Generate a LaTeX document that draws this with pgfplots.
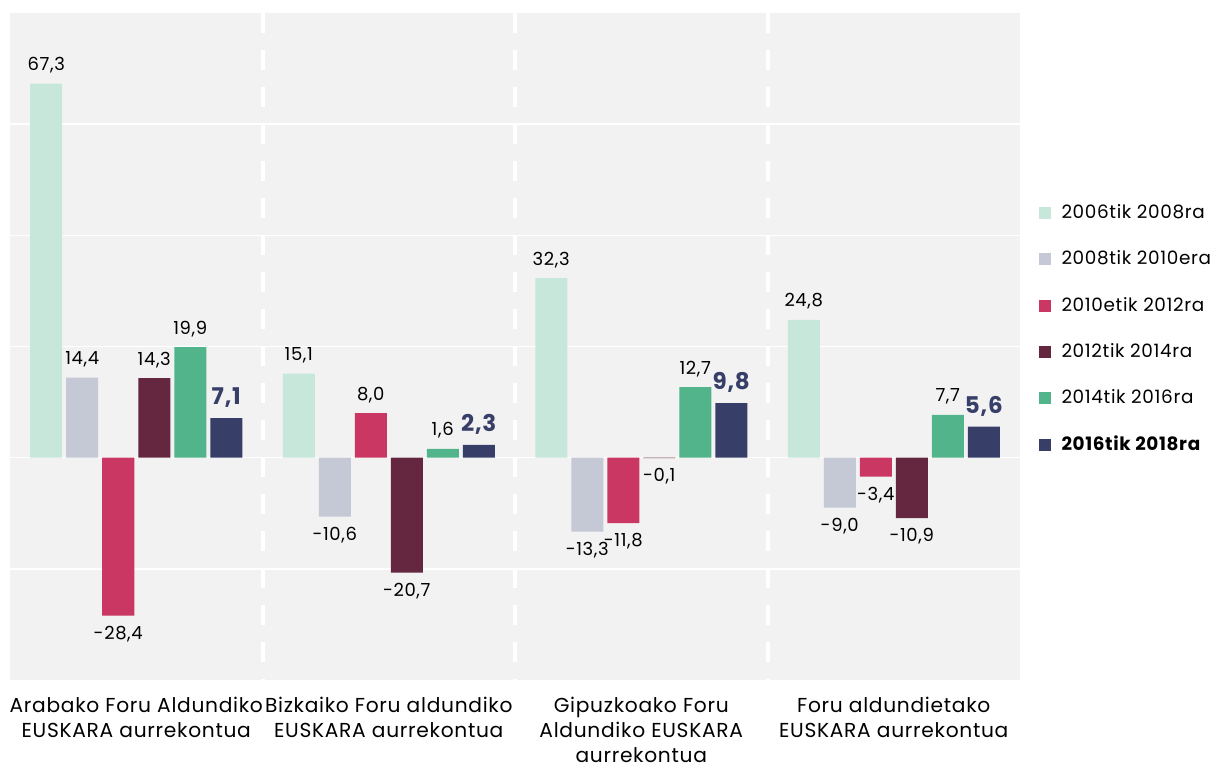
\documentclass[border=0pt]{standalone}
\usepackage{fontspec}
\setmainfont{Poppins}[LetterSpace=3.5]
\usepackage{pgfplots}
\pgfplotsset{compat=1.18}
\definecolor{c1}{HTML}{C6E7DA}
\definecolor{c2}{HTML}{C5C9D5}
\definecolor{c3}{HTML}{C93762}
\definecolor{c4}{HTML}{652740}
\definecolor{c5}{HTML}{51B48B}
\definecolor{c6}{HTML}{373F69}
\definecolor{bg}{HTML}{F2F2F2}
\begin{document}
\begin{tikzpicture}
\path[use as bounding box] (0,0) rectangle (611pt,384.5pt);
\begin{axis}[
  at={(5pt,44.5pt)}, anchor=south west,
  scale only axis, width=505pt, height=333.5pt,
  xmin=-0.5, xmax=3.5, ymin=-40, ymax=80,
  ybar=2pt, bar width=16pt,
  axis background/.style={fill=bg},
  axis line style={draw=none},
  major tick length=0pt,
  ytick={-20,0,20,40,60}, yticklabels={},
  ymajorgrids, grid style={white, line width=0.8pt},
  xtick={0,1,2,3},
  xticklabels={{Arabako Foru Aldundiko\\EUSKARA aurrekontua},{Bizkaiko Foru aldundiko\\EUSKARA aurrekontua},{Gipuzkoako Foru\\Aldundiko EUSKARA\\aurrekontua},{Foru aldundietako\\EUSKARA aurrekontua}},
  xticklabel style={align=center, font=\fontsize{10.1}{12.5}\selectfont, yshift=-5pt},
  nodes near coords,
  every node near coord/.append style={font=\fontsize{9}{10}\selectfont, text=black, inner sep=5pt},
  /pgf/number format/fixed, /pgf/number format/zerofill, /pgf/number format/precision=1,
  /pgf/number format/use comma, /pgf/number format/assume math mode=true,
  legend image code/.code={\fill[#1] (0pt,-3pt) rectangle (6pt,3pt);},
  legend cell align=left,
  legend style={at={(1.012,0.526)}, anchor=west, draw=none, fill=none,
    font=\fontsize{9.2}{11}\selectfont, row sep=10.6pt, column sep=3.5pt},
]
\addplot[fill=c1, draw=none] coordinates {(0,67.3) (1,15.1) (2,32.3) (3,24.8)};
\addplot[fill=c2, draw=none] coordinates {(0,14.4) (1,-10.6) (2,-13.3) (3,-9.0)};
\addplot[fill=c3, draw=none] coordinates {(0,-28.4) (1,8.0) (2,-11.8) (3,-3.4)};
\addplot[fill=c4, draw=none] coordinates {(0,14.3) (1,-20.7) (2,-0.1) (3,-10.9)};
\addplot[fill=c5, draw=none] coordinates {(0,19.9) (1,1.6) (2,12.7) (3,7.7)};
\addplot[fill=c6, draw=none, every node near coord/.append style={font=\bfseries\fontsize{11.5}{12}\selectfont, text=c6}] coordinates {(0,7.1) (1,2.3) (2,9.8) (3,5.6)};
\legend{2006tik 2008ra, 2008tik 2010era, 2010etik 2012ra, 2012tik 2014ra, 2014tik 2016ra, \textbf{2016tik 2018ra}}
\foreach \xx in {0.5,1.5,2.5}{
  \edef\tmp{\noexpand\draw[white, line width=2pt, dash pattern=on 10pt off 8.5pt] (axis cs:\xx,80) -- (axis cs:\xx,-40);}\tmp
}
\end{axis}
\end{tikzpicture}
\end{document}
